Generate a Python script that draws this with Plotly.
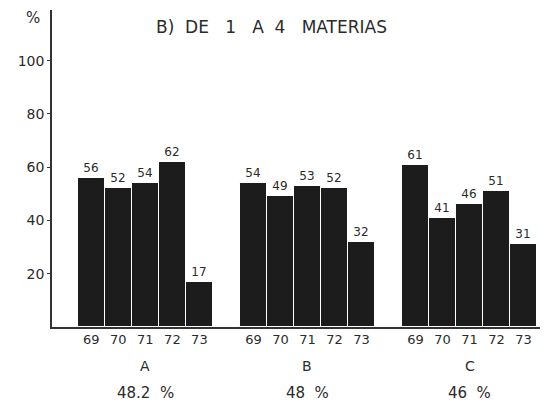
import plotly.graph_objects as go

years = ["69", "70", "71", "72", "73"]
groups = ["A", "B", "C"]
group_pcts = ["48.2 %", "48 %", "46 %"]
values_A = [56, 52, 54, 62, 17]
values_B = [54, 49, 53, 52, 32]
values_C = [61, 41, 46, 51, 31]
y_ticks = [20, 40, 60, 80, 100]

series = [values_A, values_B, values_C]
GROUP_STEP = 6

xs, ys, ticktext = [], [], []
for g, vals in enumerate(series):
    for i, v in enumerate(vals):
        xs.append(g * GROUP_STEP + i)
        ys.append(v)
        ticktext.append(years[i])

FONT = "DejaVu Sans"
TXT = "#2b2b2b"
NB = "\u00a0"

annotations = []
for g, name in enumerate(groups):
    cx = g * GROUP_STEP + 2
    annotations.append(dict(x=cx, xref="x", y=-0.123, yref="paper", text=name,
                            showarrow=False, font=dict(family=FONT, size=14, color=TXT),
                            yanchor="middle"))
    annotations.append(dict(x=cx, xref="x", y=-0.209, yref="paper",
                            text=group_pcts[g].replace(" ", NB * 2),
                            showarrow=False, font=dict(family=FONT, size=15, color=TXT),
                            yanchor="middle"))

annotations.append(dict(x=-0.039, xref="paper", y=0.975, yref="paper", text="%",
                        showarrow=False, font=dict(family=FONT, size=15, color=TXT),
                        xanchor="center", yanchor="middle"))
S2, S3 = NB * 2, NB * 3
title_txt = "B)" + S2 + "DE" + S3 + "1" + S3 + "A" + S2 + "4" + S3 + "MATERIAS"
annotations.append(dict(x=0.45, xref="paper", y=0.946, yref="paper",
                        text=title_txt,
                        showarrow=False, font=dict(family=FONT, size=17, color=TXT),
                        xanchor="center", yanchor="middle"))

fig = go.Figure()
fig.add_trace(go.Bar(
    x=xs, y=ys, width=1,
    marker=dict(color="#1c1c1c", line=dict(color="white", width=1)),
    text=[str(v) for v in ys], textposition="outside",
    textfont=dict(family=FONT, size=12, color=TXT),
    cliponaxis=False, hoverinfo="skip",
))

fig.update_layout(
    width=546, height=397,
    margin=dict(l=44, r=14, t=2, b=78),
    paper_bgcolor="white", plot_bgcolor="white",
    showlegend=False, bargap=0,
    xaxis=dict(range=[-1.456, 16.61], tickvals=xs, ticktext=ticktext,
               showline=True, linecolor="#333", linewidth=1.5, showgrid=False,
               zeroline=False, ticks="", tickfont=dict(family=FONT, size=13, color=TXT),
               fixedrange=True),
    yaxis=dict(range=[0, 119], tickvals=y_ticks, showline=True, linecolor="#333",
               linewidth=1.5, showgrid=False, zeroline=False, ticks="outside",
               ticklen=3, tickcolor="#333", tickwidth=1,
               tickfont=dict(family=FONT, size=14, color=TXT), fixedrange=True),
    annotations=annotations,
)

fig.write_html("out.html")
